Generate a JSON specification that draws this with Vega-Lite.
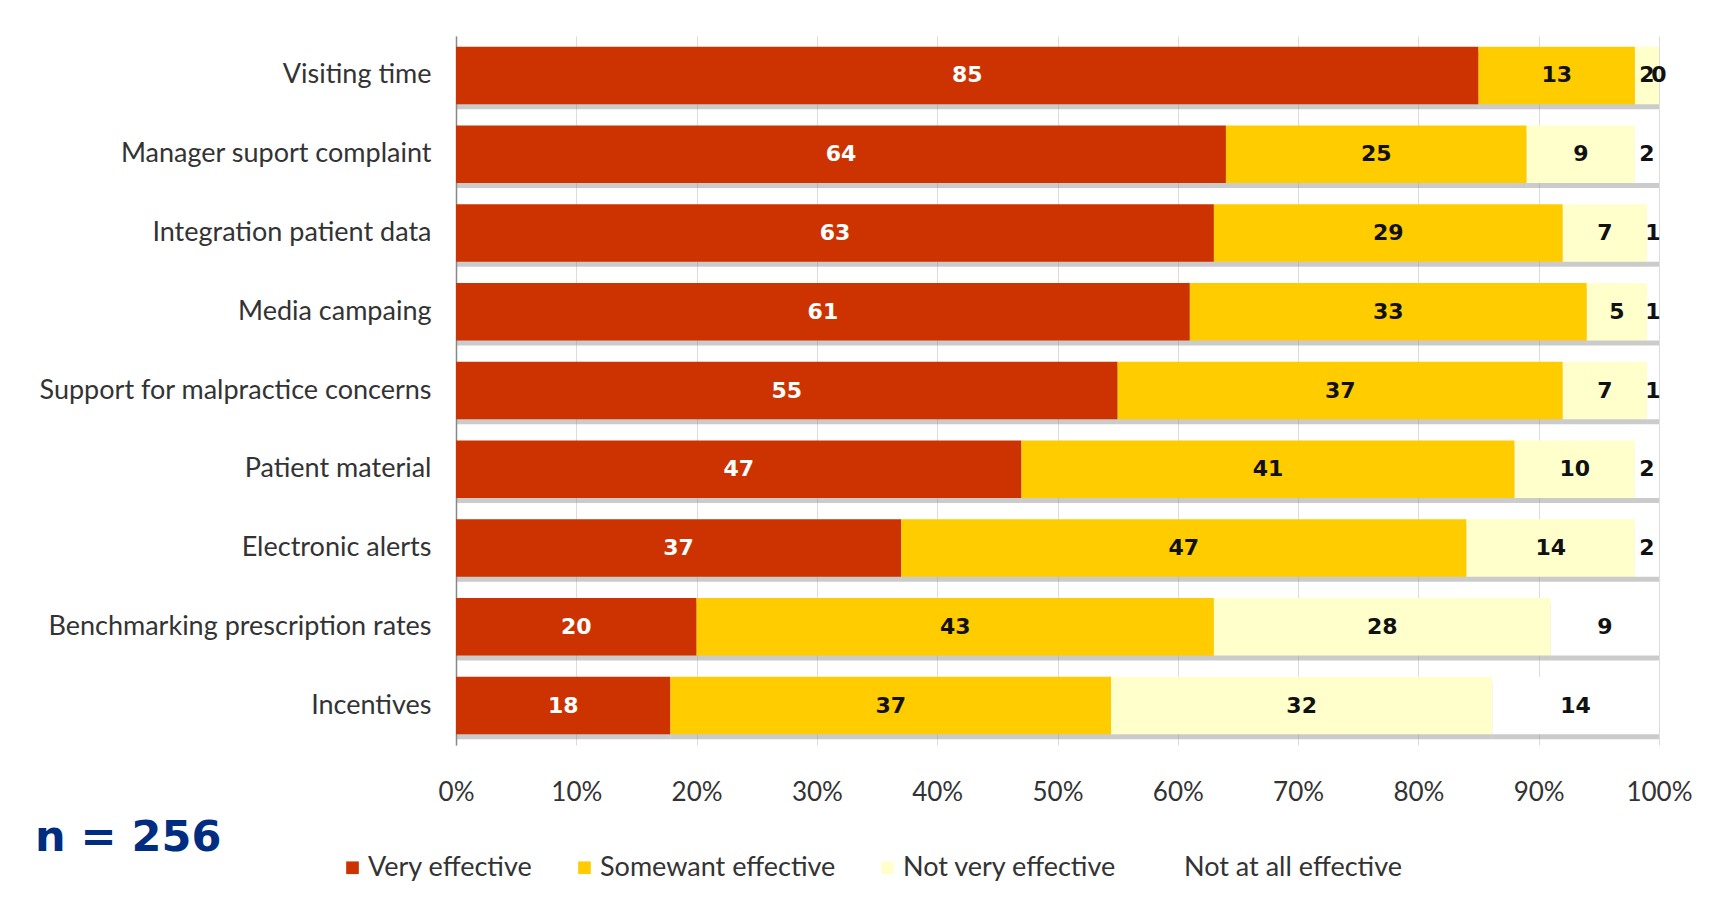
{
  "$schema": "https://vega.github.io/schema/vega-lite/v6.json",
  "width": 1203,
  "height": 709,
  "autosize": "none",
  "padding": {"left": 456, "top": 36, "right": 64, "bottom": 161},
  "background": "white",
  "title": {
    "text": "n = 256",
    "orient": "bottom",
    "anchor": "start",
    "frame": "group",
    "dx": -421,
    "dy": -92,
    "offset": 28,
    "font": "DejaVu Sans",
    "fontSize": 43,
    "fontWeight": "bold",
    "color": "#002D80"
  },
  "data": {
    "values": [
      {"item": "Visiting time", "cat": "Very effective", "order": 1, "value": 85},
      {"item": "Visiting time", "cat": "Somewant effective", "order": 2, "value": 13},
      {"item": "Visiting time", "cat": "Not very effective", "order": 3, "value": 2},
      {"item": "Visiting time", "cat": "Not at all effective", "order": 4, "value": 0},
      {"item": "Manager suport complaint", "cat": "Very effective", "order": 1, "value": 64},
      {"item": "Manager suport complaint", "cat": "Somewant effective", "order": 2, "value": 25},
      {"item": "Manager suport complaint", "cat": "Not very effective", "order": 3, "value": 9},
      {"item": "Manager suport complaint", "cat": "Not at all effective", "order": 4, "value": 2},
      {"item": "Integration patient data", "cat": "Very effective", "order": 1, "value": 63},
      {"item": "Integration patient data", "cat": "Somewant effective", "order": 2, "value": 29},
      {"item": "Integration patient data", "cat": "Not very effective", "order": 3, "value": 7},
      {"item": "Integration patient data", "cat": "Not at all effective", "order": 4, "value": 1},
      {"item": "Media campaing", "cat": "Very effective", "order": 1, "value": 61},
      {"item": "Media campaing", "cat": "Somewant effective", "order": 2, "value": 33},
      {"item": "Media campaing", "cat": "Not very effective", "order": 3, "value": 5},
      {"item": "Media campaing", "cat": "Not at all effective", "order": 4, "value": 1},
      {"item": "Support for malpractice concerns", "cat": "Very effective", "order": 1, "value": 55},
      {"item": "Support for malpractice concerns", "cat": "Somewant effective", "order": 2, "value": 37},
      {"item": "Support for malpractice concerns", "cat": "Not very effective", "order": 3, "value": 7},
      {"item": "Support for malpractice concerns", "cat": "Not at all effective", "order": 4, "value": 1},
      {"item": "Patient material", "cat": "Very effective", "order": 1, "value": 47},
      {"item": "Patient material", "cat": "Somewant effective", "order": 2, "value": 41},
      {"item": "Patient material", "cat": "Not very effective", "order": 3, "value": 10},
      {"item": "Patient material", "cat": "Not at all effective", "order": 4, "value": 2},
      {"item": "Electronic alerts", "cat": "Very effective", "order": 1, "value": 37},
      {"item": "Electronic alerts", "cat": "Somewant effective", "order": 2, "value": 47},
      {"item": "Electronic alerts", "cat": "Not very effective", "order": 3, "value": 14},
      {"item": "Electronic alerts", "cat": "Not at all effective", "order": 4, "value": 2},
      {"item": "Benchmarking prescription rates", "cat": "Very effective", "order": 1, "value": 20},
      {"item": "Benchmarking prescription rates", "cat": "Somewant effective", "order": 2, "value": 43},
      {"item": "Benchmarking prescription rates", "cat": "Not very effective", "order": 3, "value": 28},
      {"item": "Benchmarking prescription rates", "cat": "Not at all effective", "order": 4, "value": 9},
      {"item": "Incentives", "cat": "Very effective", "order": 1, "value": 18},
      {"item": "Incentives", "cat": "Somewant effective", "order": 2, "value": 37},
      {"item": "Incentives", "cat": "Not very effective", "order": 3, "value": 32},
      {"item": "Incentives", "cat": "Not at all effective", "order": 4, "value": 14}
    ]
  },
  "transform": [
    {"stack": "value", "groupby": ["item"], "offset": "normalize", "sort": [{"field": "order", "order": "ascending"}], "as": ["v0", "v1"]}
  ],
  "encoding": {
    "y": {
      "field": "item",
      "type": "nominal",
      "sort": ["Visiting time", "Manager suport complaint", "Integration patient data", "Media campaing", "Support for malpractice concerns", "Patient material", "Electronic alerts", "Benchmarking prescription rates", "Incentives"],
      "scale": {"paddingInner": 0.27, "paddingOuter": 0.135},
      "axis": {
        "title": null,
        "labelFont": "Lato",
        "labelFontSize": 27,
        "labelColor": "#333",
        "labelPadding": 25,
        "ticks": false,
        "domainColor": "#888",
        "domainWidth": 1.5,
        "labelLimit": 450
      }
    }
  },
  "layer": [
    {
      "mark": {"type": "bar", "color": "#8c8c8c", "opacity": 0.45, "yOffset": 5},
      "encoding": {
        "x": {
          "field": "v0",
          "type": "quantitative",
          "scale": {"domain": [0, 1], "nice": false},
          "axis": {
            "title": null,
            "format": ".0%",
            "values": [0, 0.1, 0.2, 0.3, 0.4, 0.5, 0.6, 0.7, 0.8, 0.9, 1],
            "labelFont": "Lato",
            "labelFontSize": 26,
            "labelColor": "#333",
            "labelPadding": 34,
            "labelFlush": false,
            "domain": false,
            "ticks": false,
            "gridColor": "#dcdcdc",
            "gridWidth": 1
          }
        },
        "x2": {"field": "v1"}
      }
    },
    {
      "mark": {"type": "bar"},
      "encoding": {
        "x": {"field": "v0", "type": "quantitative"},
        "x2": {"field": "v1"},
        "color": {
          "field": "cat",
          "type": "nominal",
          "scale": {
            "domain": ["Very effective", "Somewant effective", "Not very effective", "Not at all effective"],
            "range": ["#CC3300", "#FFCC00", "#FFFFCC", "#FFFFFF"]
          },
          "legend": {
            "title": null,
            "orient": "none",
            "direction": "horizontal",
            "legendX": -117,
            "legendY": 818,
            "symbolType": "square",
            "symbolSize": 160,
            "symbolStrokeWidth": 0,
            "labelFont": "Lato",
            "labelFontSize": 27,
            "labelColor": "#333",
            "labelOffset": 2,
            "columnPadding": 38,
            "labelLimit": 300
          }
        }
      }
    },
    {
      "transform": [
        {"fold": ["v0", "v1"], "as": ["edge", "pos"]},
        {"aggregate": [{"op": "mean", "field": "pos", "as": "mid"}], "groupby": ["item", "cat", "value"]}
      ],
      "mark": {"type": "text", "font": "DejaVu Sans", "fontWeight": "bold", "fontSize": 22, "baseline": "middle", "align": "center"},
      "encoding": {
        "x": {"field": "mid", "type": "quantitative"},
        "text": {"field": "value", "type": "quantitative"},
        "color": {
          "condition": {"test": "datum.cat === 'Very effective'", "value": "white"},
          "value": "#111111"
        }
      }
    }
  ],
  "config": {
    "view": {"stroke": null}
  }
}
